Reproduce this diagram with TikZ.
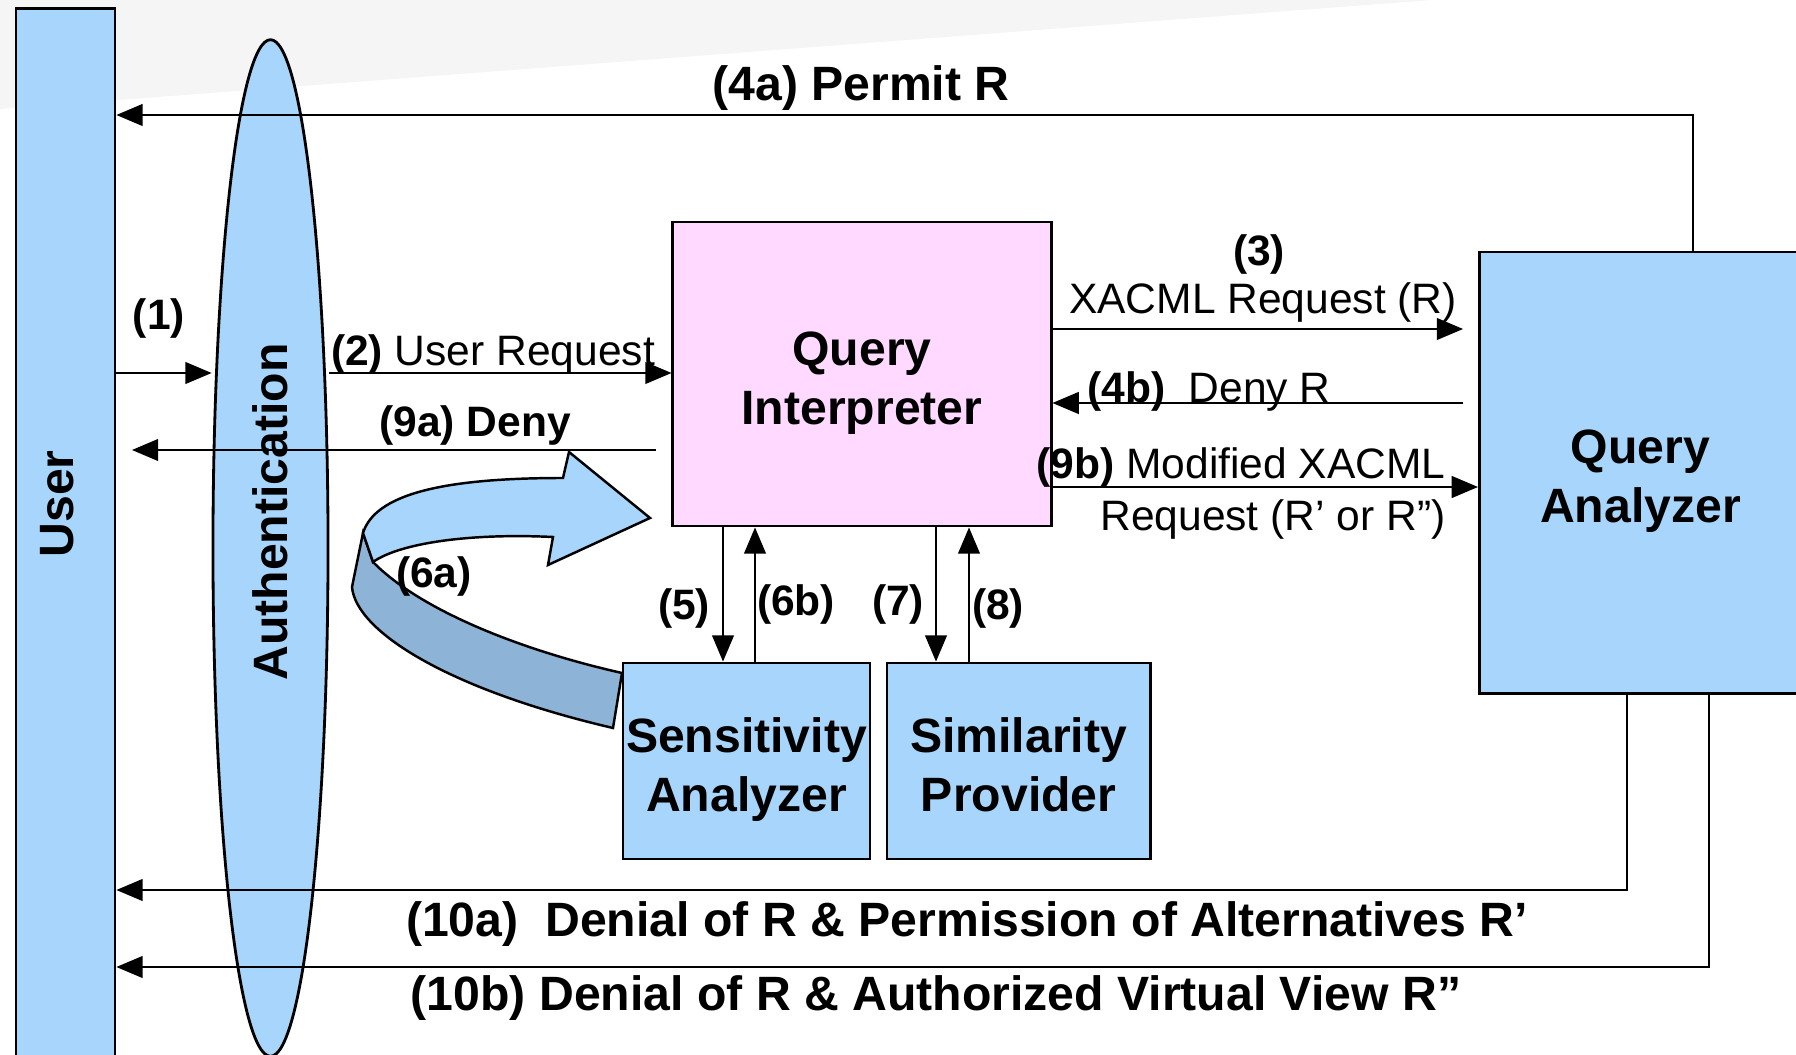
\documentclass[tikz,border=0pt]{standalone}
\usepackage{fontspec}
\setmainfont{Liberation Sans}
\usetikzlibrary{shapes,arrows}
\definecolor{boxblue}{RGB}{168,213,251}
\definecolor{foldblue}{RGB}{141,179,214}
\definecolor{qipink}{RGB}{255,217,255}
\newcommand{\boxfont}{\fontsize{13.7}{16.8}\selectfont}
\newcommand{\lblfont}{\fontsize{12.1}{14.6}\selectfont}
\tikzset{
  block/.style  = {draw, line width=0.8pt, rectangle, fill=boxblue, align=center, inner xsep=0pt,
                   text height=28.6pt, text depth=0pt, font=\boxfont\bfseries},
  oval/.style   = {draw, line width=0.8pt, ellipse, fill=boxblue, minimum width=1.15cm, minimum height=10.16cm, inner sep=0pt},
  side/.style   = {font=\boxfont\bfseries, inner sep=0pt, rotate=90},
  title/.style  = {font=\boxfont\bfseries, inner sep=0pt, yshift=-1.2pt},
  lbl/.style    = {font=\lblfont\bfseries, inner sep=0pt, yshift=-1.3pt},
  txt/.style    = {font=\lblfont, inner sep=0pt, yshift=-1.3pt}
}

\begin{document}
\begin{tikzpicture}[x=0.01cm, y=-0.01cm, >=triangle 45, line width=0.7pt]

\path[use as bounding box, clip] (0,0) rectangle (1796,1055);
\fill[gray!8] (0,0) -- (1432,0) -- (0,109) -- cycle;

% Side bars
\draw node [block, minimum width=0.99cm, minimum height=10.91cm] (user) at (65.5,554.5) {};
\draw node [oval] (auth) at (270.5,548) {};
\draw node [side] (userlbl) at (57,504) {User};
\draw node [side] (authlbl) at (270,512) {Authentication};

% Feedback ribbon (6a)
\filldraw[fill=foldblue] (363,533) -- (352,587) .. controls (356,632) and (450,690) .. (613,728)
  -- (622,673) .. controls (520,650) and (420,610) .. (373,562) -- cycle;
\filldraw[fill=boxblue] (363,533) .. controls (375,495) and (440,478) .. (563,478) -- (569,452)
  -- (650,518) -- (548,565) -- (553,537) .. controls (470,533) and (400,543) .. (373,562) -- cycle;

% Main blocks
\draw node [block, fill=qipink, minimum width=3.78cm, minimum height=3.04cm] (qi) at (862,374) {Query\\Interpreter};
\draw node [block, right of=qi, node distance=7.78cm, yshift=-0.985cm, minimum width=3.22cm, minimum height=4.41cm] (qa) {Query\\Analyzer};
\draw node [block, minimum width=2.47cm, minimum height=1.96cm] (sens) at (746.5,761) {Sensitivity\\Analyzer};
\draw node [block, right of=sens, node distance=2.72cm, minimum width=2.63cm, minimum height=1.96cm] (simil) {Similarity\\Provider};

% Connection points
\coordinate (r1) at (0,373);
\coordinate (s9a) at (656,450);
\coordinate (e9a) at (132,450);
\coordinate (e3) at (1463,329);
\coordinate (s4b) at (1463,403);
\coordinate (r9b) at (0,487);
\coordinate (c5) at (723,0);
\coordinate (c6b) at (755,0);
\coordinate (c7) at (936,0);
\coordinate (c8) at (969,0);
\coordinate (c4a) at (1693,115);
\coordinate (c10a) at (1627,890);
\coordinate (c10b) at (1709,967);

% Connections
\draw[->] (user.east |- r1) -- (auth.west |- r1);
\draw[->] (auth.east |- r1) -- (qi.west |- r1);
\draw[->] (s9a) -- (e9a);
\draw[->] (qi.east |- e3) -- (e3);
\draw[->] (s4b) -- (qi.east |- s4b);
\draw[->] (qi.east |- r9b) -- (qa.west |- r9b);
\draw[->] (qi.south -| c5) -- (sens.north -| c5);
\draw[->] (sens.north -| c6b) -- (qi.south -| c6b);
\draw[->] (qi.south -| c7) -- (simil.north -| c7);
\draw[->] (simil.north -| c8) -- (qi.south -| c8);
\draw[->] (qa.north -| c4a) |- (user.east |- c4a);
\draw[->] (qa.south -| c10a) |- (user.east |- c10a);
\draw[->] (qa.south -| c10b) |- (user.east |- c10b);

% Labels
\draw node [title] (l4a) at (861,84) {(4a) Permit R};
\draw node [lbl] (l1) at (159,314) {(1)};
\draw node [txt] (l2) at (493,350) {\textbf{(2)} User Request};
\draw node [lbl] (l9a) at (475,421) {(9a) Deny};
\draw node [lbl] (l3) at (1259,250) {(3)};
\draw node [txt] (l3b) at (1263,298) {XACML Request (R)};
\draw node [txt] (l4b) at (1209,387) {\textbf{(4b)}\ \ Deny R};
\draw node [txt, align=right] (l9b) at (1241,489) {\textbf{(9b)} Modified XACML\\Request (R’ or R”)\hspace{4pt}};
\draw node [lbl] (l5) at (684,604) {(5)};
\draw node [lbl] (l6b) at (796,600) {(6b)};
\draw node [lbl] (l7) at (898,600) {(7)};
\draw node [lbl] (l8) at (998,604) {(8)};
\draw node [lbl] (l6a) at (434,572) {(6a)};
\draw node [title] (l10a) at (967,920) {(10a)\ \ Denial of R \& Permission of Alternatives R’};
\draw node [title] (l10b) at (936,994) {(10b) Denial of R \& Authorized Virtual View R”};

\end{tikzpicture}
\end{document}
